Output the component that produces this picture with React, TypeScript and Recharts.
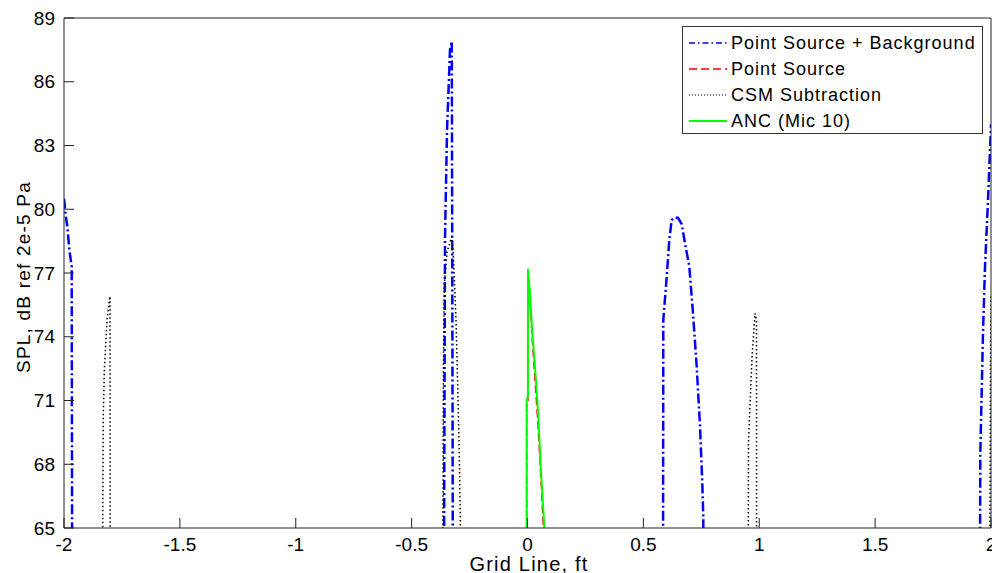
import React from "react";
import { Line, LineChart, XAxis, YAxis } from "recharts";

// Values below the 65 dB floor are clipped by the axis, so lobes end in near-vertical walls.
const xTicks = [-2, -1.5, -1, -0.5, 0, 0.5, 1, 1.5, 2];
const yTicks = [65, 68, 71, 74, 77, 80, 83, 86, 89];

// Point Source + Background
const psbX = [
  -2.0, -1.9914, -1.9858, -1.9771, -1.9668, -1.9617,
  -0.3671, -0.3559, -0.3473, -0.3344, -0.3267, -0.3232, -0.3192,
  0.5825, 0.586, 0.6006, 0.6118, 0.6222, 0.6364, 0.6494, 0.6654, 0.6796, 0.6982, 0.7128, 0.7301, 0.7443, 0.7543, 0.7586, 0.7609,
  1.9463, 1.9539, 1.9655, 1.9741, 1.9871, 1.9979, 2.0,
];
const psbY = [
  80.5, 79.6, 79.2, 78.1, 77.3, 40,
  40, 78.7, 83.7, 87.5, 87.9, 70, 40,
  40, 74.8, 76.8, 78.55, 79.5, 79.6, 79.6, 79.3, 78.4, 77.3, 75.3, 72.6, 69.8, 67.1, 65.5, 40,
  40, 68.5, 74.2, 77.3, 80.4, 83.4, 84,
];

// Point Source
const psX = [-0.0038, -0.0035, 0.0021, 0.0024, 0.0109, 0.021, 0.0321, 0.0432, 0.0522, 0.0614, 0.0682, 0.0694];
const psY = [40, 71.0, 71.0, 77.0, 75.7, 73.8, 72.0, 70.2, 68.5, 66.6, 65.1, 40];

// CSM Subtraction
const csmX = [
  -1.8357, -1.8327, -1.8307, -1.8257, -1.8135, -1.8015, -1.7989,
  -0.3681, -0.3647, -0.3631, -0.3591, -0.3469, -0.327, -0.3202, -0.3085, -0.3011, -0.2943, -0.29, -0.2884,
  0.9494, 0.9528, 0.9534, 0.9686, 0.9816, 0.9881, 0.9891,
  1.9917, 1.9957, 1.9977, 2.0,
];
const csmY = [
  40, 65.3, 70.2, 72.5, 74.9, 75.9, 40,
  40, 65.5, 72, 76.5, 78.0, 78.7, 77.9, 74.8, 71.65, 68.5, 65.4, 40,
  40, 65.5, 69, 73, 75.1, 74.8, 40,
  40, 65.5, 72, 76,
];

// ANC (Mic 10)
const ancX = [-0.0038, -0.0035, 0.0018, 0.0021, 0.0108, 0.0207, 0.0324, 0.044, 0.0509, 0.057, 0.0656, 0.0725, 0.0739];
const ancY = [40, 71.0, 71.2, 77.2, 76.04, 74.16, 72.59, 70.71, 69.3, 67.89, 66.32, 65.06, 40];

const zip = (xs: number[], ys: number[]) => xs.map((x, i) => ({ x, y: ys[i] }));

const FONT = "'Liberation Sans', Arial, sans-serif";

const series = [
  { name: "Point Source + Background", data: zip(psbX, psbY), color: "#0000ff", width: 2.5, dash: "10 3 2 3", legendDash: "6 3 1.5 3", legendWidth: 1.5 },
  { name: "Point Source", data: zip(psX, psY), color: "#ff0000", width: 1.5, dash: "8 4", legendDash: "8 4", legendWidth: 1.5 },
  { name: "CSM Subtraction", data: zip(csmX, csmY), color: "#000000", width: 1.5, dash: "1.5 2.5", legendDash: "1 2", legendWidth: 1 },
  { name: "ANC (Mic 10)", data: zip(ancX, ancY), color: "#00ff00", width: 2, dash: undefined, legendDash: undefined, legendWidth: 2 },
];

const tickStyle = { fontSize: 19, fill: "#000", fontFamily: FONT };

const YLabel = () => (
  <text
    x={23}
    y={277}
    transform="rotate(-90 23 277)"
    textAnchor="middle"
    dominantBaseline="central"
    fontSize={19}
    fontFamily={FONT}
    letterSpacing={1.2}
    fill="#000"
  >
    SPL, dB ref 2e-5 Pa
  </text>
);

const XLabel = () => (
  <text x={529} y={571} textAnchor="middle" fontSize={20} fontFamily={FONT} letterSpacing={1.2} fill="#000">
    Grid Line, ft
  </text>
);

function Legend() {
  return (
    <div
      style={{
        position: "absolute",
        left: 682,
        top: 26,
        width: 299,
        height: 106,
        border: "1px solid #333",
        background: "#fff",
        fontFamily: FONT,
        fontSize: 18,
        letterSpacing: 1,
      }}
    >
      {series.map((s, i) => (
        <div
          key={s.name}
          style={{ position: "absolute", left: 0, top: 3 + i * 26, height: 26, display: "flex", alignItems: "center", whiteSpace: "nowrap" }}
        >
          <svg width={48} height={26}>
            <line x1={6} x2={44} y1={13} y2={13} stroke={s.color} strokeWidth={s.legendWidth} strokeDasharray={s.legendDash} />
          </svg>
          <span>{s.name}</span>
        </div>
      ))}
    </div>
  );
}

export default function App() {
  return (
    <div style={{ position: "relative", width: 992, height: 573, overflow: "hidden", background: "#fff" }}>
      <style>{"html,body{margin:0;padding:0;overflow:hidden;background:#fff}"}</style>
      <LineChart width={992} height={573} margin={{ top: 17, right: 0, bottom: 0, left: 0 }}>
        <XAxis
          dataKey="x"
          type="number"
          domain={[-2, 2]}
          ticks={xTicks}
          allowDataOverflow
          height={45}
          interval={0}
          tickSize={-10}
          tickMargin={20}
          tick={tickStyle}
          tickFormatter={(v) => String(v)}
          stroke="#222"
          label={XLabel}
        />
        <XAxis
          xAxisId="top"
          orientation="top"
          type="number"
          domain={[-2, 2]}
          ticks={xTicks}
          allowDataOverflow
          height={1}
          interval={0}
          tickSize={-10}
          tick={false}
          stroke="#222"
        />
        <YAxis
          type="number"
          domain={[65, 89]}
          ticks={yTicks}
          allowDataOverflow
          width={64}
          interval={0}
          tickSize={-10}
          tickMargin={19}
          tick={tickStyle}
          stroke="#222"
          label={YLabel}
        />
        <YAxis
          yAxisId="right"
          orientation="right"
          type="number"
          domain={[65, 89]}
          ticks={yTicks}
          allowDataOverflow
          width={1}
          interval={0}
          tickSize={-10}
          tick={false}
          stroke="#222"
        />
        {series.map((s) => (
          <Line
            key={s.name}
            data={s.data}
            dataKey="y"
            name={s.name}
            type="linear"
            stroke={s.color}
            strokeWidth={s.width}
            strokeDasharray={s.dash}
            dot={false}
            activeDot={false}
            isAnimationActive={false}
          />
        ))}
      </LineChart>
      <Legend />
    </div>
  );
}
